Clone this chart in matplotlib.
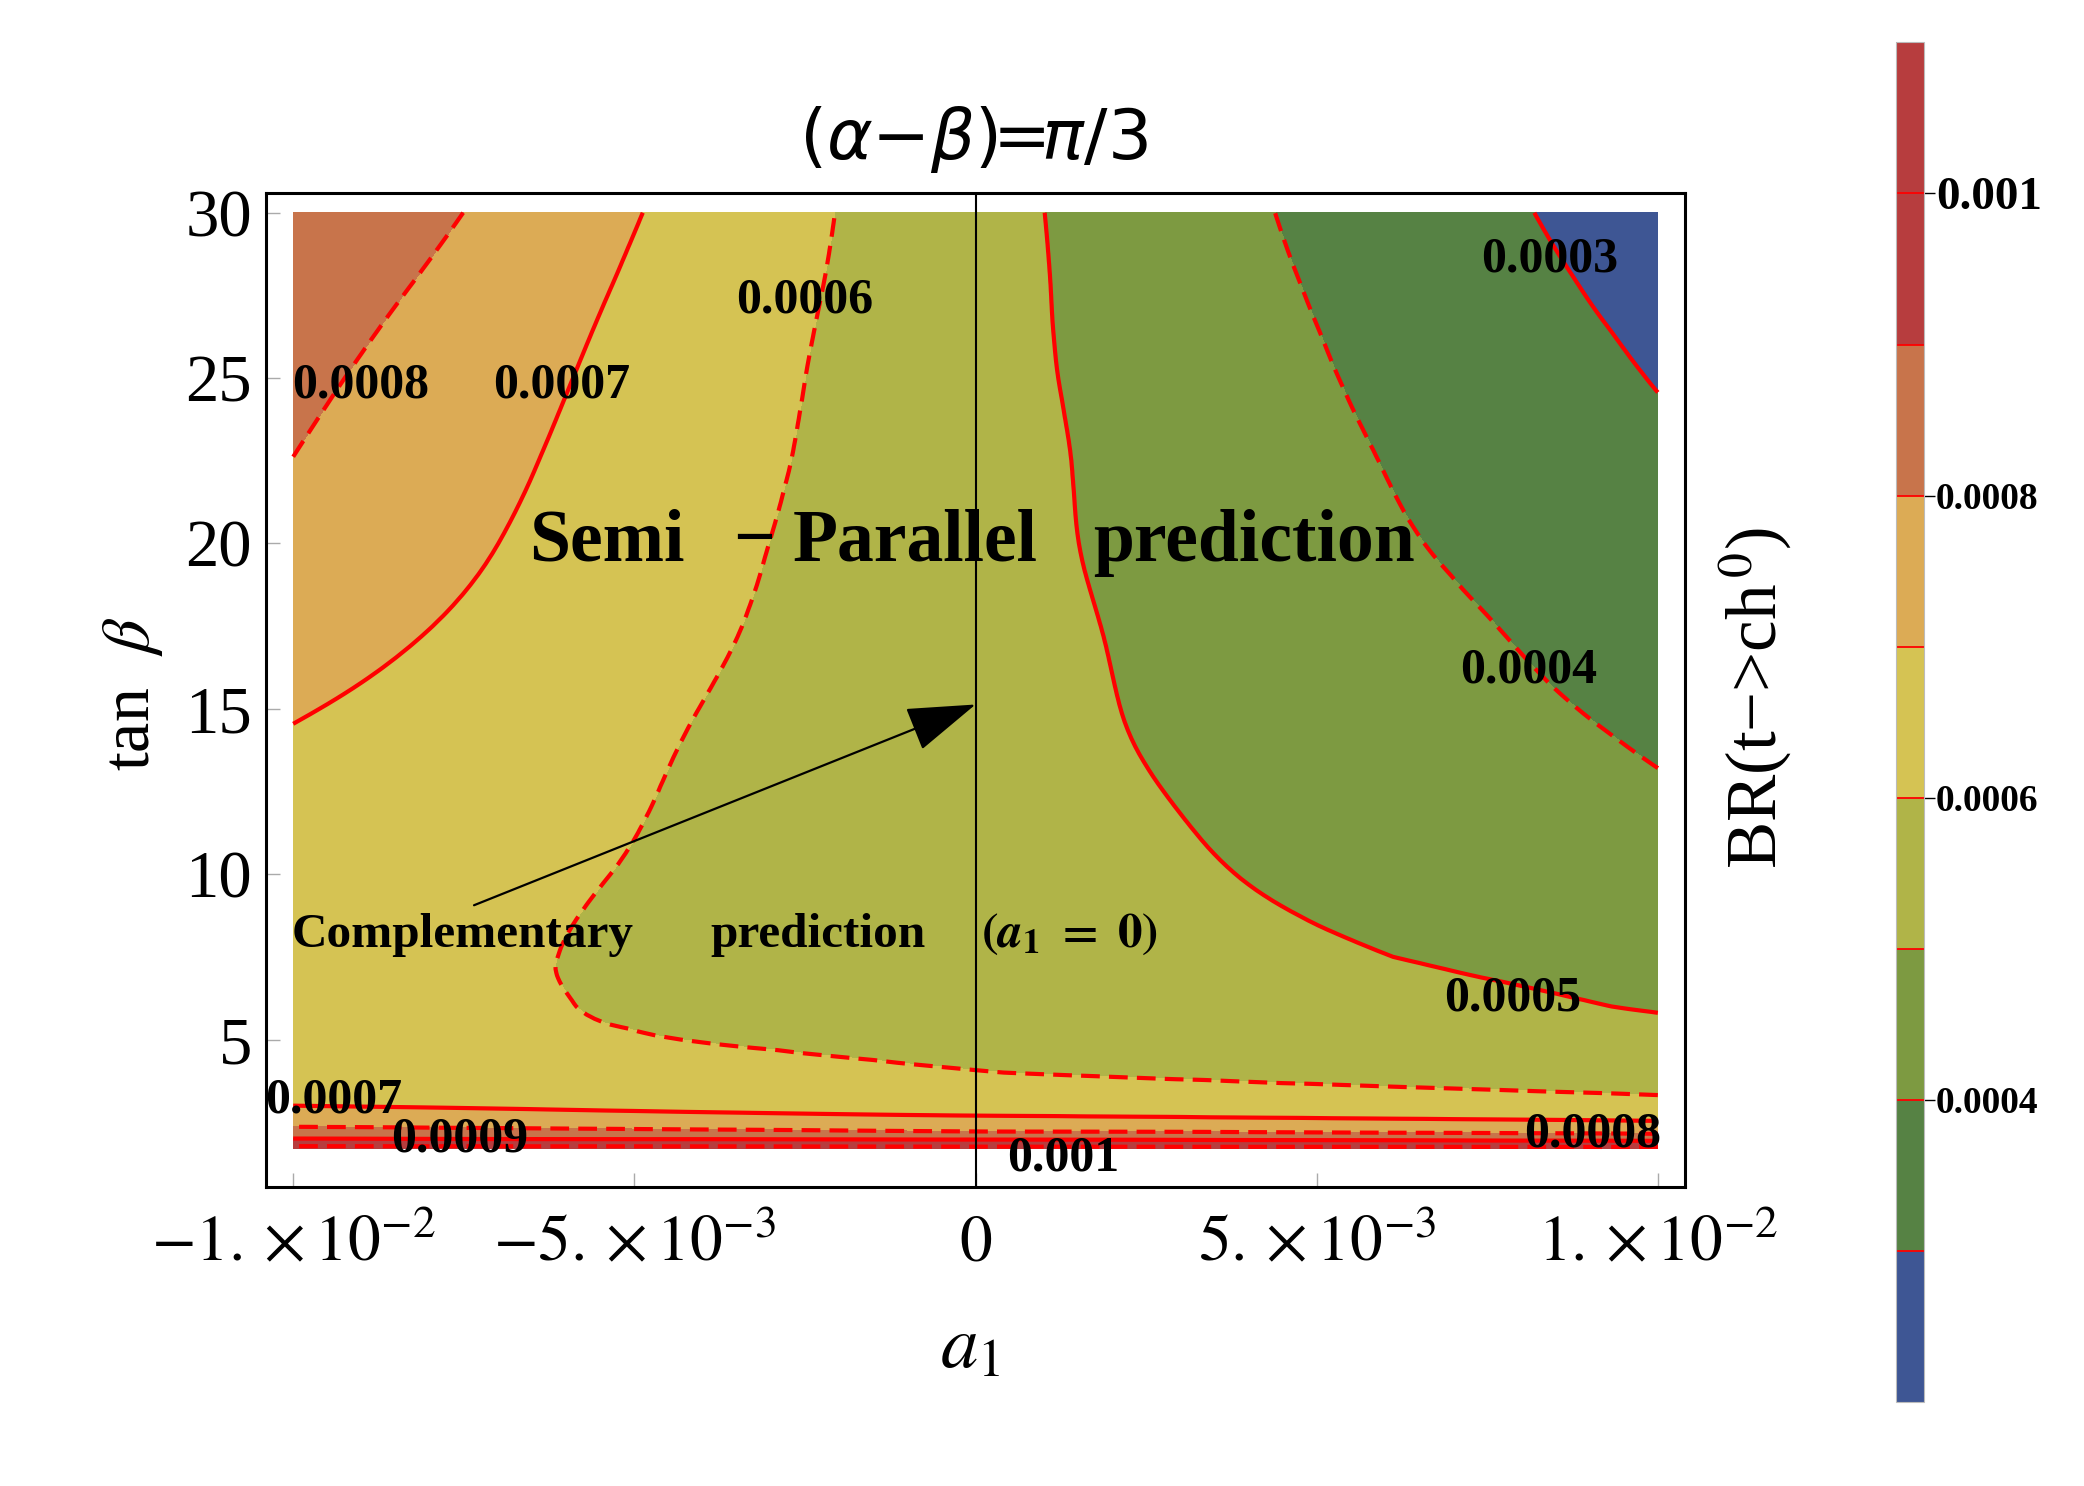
import numpy as np
import matplotlib
matplotlib.use("Agg")
import matplotlib.pyplot as plt
import matplotlib.tri as mtri

plt.rcParams['font.family'] = ['Liberation Serif', 'DejaVu Serif']
plt.rcParams['mathtext.fontset'] = 'stix'

# grid: BR(t->ch0) in units of 1e-4
a1_vals = [-0.010, -0.008, -0.006, -0.004, -0.002, 0.0, 0.002, 0.004, 0.006, 0.008, 0.010]
tanb_vals = [1.7, 1.75, 2.0, 2.25, 2.5, 2.75, 3.0, 3.5, 4.0, 5.0, 6.0, 7.5,
             10.0, 12.5, 15.0, 17.5, 20.0, 22.5, 25.0, 27.5, 30.0]
br_e4 = [
    [11.3, 11.3, 11.3, 11.3, 11.3, 11.3, 11.3, 11.3, 11.3, 11.3, 11.3],
    [10.12, 10.11, 10.10, 10.09, 10.07, 10.05, 10.04, 10.03, 10.03, 10.02, 10.02],
    [9.02, 8.98, 8.95, 8.94, 8.91, 8.88, 8.86, 8.81, 8.78, 8.72, 8.67],
    [8.24, 8.19, 8.13, 8.07, 8.00, 7.92, 7.89, 7.85, 7.78, 7.73, 7.65],
    [7.75, 7.68, 7.61, 7.55, 7.50, 7.44, 7.37, 7.30, 7.22, 7.15, 7.07],
    [7.37, 7.27, 7.17, 7.08, 6.99, 6.90, 6.84, 6.78, 6.72, 6.67, 6.63],
    [7.00, 6.92, 6.84, 6.76, 6.69, 6.62, 6.54, 6.46, 6.38, 6.30, 6.22],
    [6.72, 6.63, 6.55, 6.47, 6.38, 6.30, 6.22, 6.13, 6.05, 5.97, 5.88],
    [6.58, 6.47, 6.36, 6.25, 6.13, 6.02, 5.93, 5.85, 5.77, 5.68, 5.60],
    [6.38, 6.25, 6.11, 5.98, 5.87, 5.76, 5.65, 5.54, 5.44, 5.33, 5.22],
    [6.32, 6.15, 6.01, 5.88, 5.75, 5.62, 5.48, 5.35, 5.22, 5.09, 4.96],
    [6.32, 6.15, 5.99, 5.82, 5.66, 5.50, 5.33, 5.17, 5.01, 4.84, 4.68],
    [6.50, 6.28, 6.07, 5.85, 5.63, 5.42, 5.20, 4.98, 4.77, 4.56, 4.35],
    [6.73, 6.46, 6.19, 5.91, 5.64, 5.37, 5.10, 4.84, 4.59, 4.33, 4.07],
    [7.07, 6.71, 6.36, 5.99, 5.67, 5.35, 5.02, 4.72, 4.42, 4.12, 3.83],
    [7.47, 7.01, 6.56, 6.12, 5.72, 5.34, 4.97, 4.62, 4.28, 3.94, 3.61],
    [7.79, 7.26, 6.74, 6.23, 5.77, 5.33, 4.90, 4.51, 4.11, 3.74, 3.37],
    [7.99, 7.44, 6.89, 6.35, 5.82, 5.34, 4.86, 4.42, 3.98, 3.58, 3.18],
    [8.22, 7.63, 7.03, 6.44, 5.86, 5.32, 4.80, 4.32, 3.84, 3.40, 2.96],
    [8.53, 7.87, 7.20, 6.55, 5.92, 5.32, 4.75, 4.21, 3.71, 3.22, 2.76],
    [8.95, 8.19, 7.42, 6.68, 5.98, 5.32, 4.70, 4.11, 3.57, 3.05, 2.52],
]

levels = [0.0002, 0.0003, 0.0004, 0.0005, 0.0006, 0.0007, 0.0008, 0.0009, 0.0010, 0.0011]
band_colors = ['#3e5694', '#568244', '#7d9a41', '#b0b448', '#d5c353',
               '#dcab55', '#c8744b', '#b73d3e', '#b73d3e']
line_levels = [0.0003, 0.0004, 0.0005, 0.0006, 0.0007, 0.0008, 0.0009, 0.0010]
dash = (0, (4.5, 2.2))
line_styles = ['solid', dash, 'solid', dash, 'solid', dash, 'solid', dash]

cbar_ticks = [0.0004, 0.0006, 0.0008, 0.001]
cbar_ticklabels = ['0.0004', '0.0006', '0.0008', '0.001']
xtick_vals = [-0.01, -0.005, 0.0, 0.005, 0.01]
xtick_labels = [r'$-1.\times10^{-2}$', r'$-5.\times10^{-3}$', r'$0$',
                r'$5.\times10^{-3}$', r'$1.\times10^{-2}$']
ytick_vals = [5, 10, 15, 20, 25, 30]

# contour labels: text, a1, tan(beta)
contour_labels = [
    ('0.0006', -0.00251, 27.35),
    ('0.0008', -0.00901, 24.77),
    ('0.0007', -0.00607, 24.77),
    ('0.0003', 0.00842, 28.59),
    ('0.0004', 0.00810, 16.17),
    ('0.0005', 0.00788, 6.25),
    ('0.0007', -0.00941, 3.15),
    ('0.0009', -0.00756, 1.99),
    ('0.001', 0.00128, 1.40),
    ('0.0008', 0.00905, 2.14),
]

fig = plt.figure(figsize=(20.84, 14.86), dpi=100)
ax = fig.add_axes([0.1276, 0.2012, 0.681, 0.669])

Z = np.array(br_e4) * 1e-4
ny, nx = Z.shape

# smooth the table on a triangulation of the grid in index space,
# then place the refined nodes back on the a1 / tan(beta) axes
J, I = np.meshgrid(np.arange(nx), np.arange(ny))
idx = np.arange(ny * nx).reshape(ny, nx)
tris = []
for i in range(ny - 1):
    for j in range(nx - 1):
        a, b, c, d = idx[i, j], idx[i, j + 1], idx[i + 1, j], idx[i + 1, j + 1]
        tris += [[a, b, d], [a, d, c]]
tri = mtri.Triangulation(J.ravel().astype(float), I.ravel().astype(float), np.array(tris))
tri_f, z_f = mtri.UniformTriRefiner(tri).refine_field(Z.ravel(), subdiv=3)
x_f = np.interp(tri_f.x, np.arange(nx), a1_vals)
y_f = np.interp(tri_f.y, np.arange(ny), tanb_vals)
tri_plot = mtri.Triangulation(x_f, y_f, tri_f.triangles)

cf = ax.tricontourf(tri_plot, z_f, levels=levels, colors=band_colors)
cs = ax.tricontour(tri_plot, z_f, levels=line_levels, colors='red', linewidths=3.0,
                   linestyles=line_styles)

ax.axvline(0, color='black', lw=1.5, zorder=3)

ax.set_xlim(-0.0104, 0.0104)
ax.set_ylim(0.54, 30.6)
ax.set_xticks(xtick_vals, xtick_labels)
ax.set_yticks(ytick_vals, [str(v) for v in ytick_vals])
ax.tick_params(axis='both', direction='in', length=10, width=1, color='#aaaaaa')
ax.tick_params(axis='x', pad=20, labelsize=47)
ax.tick_params(axis='y', pad=10, labelsize=48)
for sp in ax.spines.values():
    sp.set_linewidth(2.2)

for txt, xa, yt in contour_labels:
    ax.text(xa, yt, txt, fontsize=36, fontweight='bold', ha='center', va='center',
            zorder=5, clip_on=False)

# annotations
big = dict(fontsize=53, fontweight='bold', va='baseline', zorder=5)
ax.text(-0.00654, 19.47, 'Semi', ha='left', **big)
ax.text(-0.00325, 19.47, '\u2212', ha='center', **big)
ax.text(-0.00268, 19.47, 'Parallel', ha='left', **big)
ax.text(0.00173, 19.47, 'prediction', ha='left', **big)

small = dict(fontsize=35.5, fontweight='bold', va='baseline', zorder=5)
ax.text(-0.01002, 7.81, 'Complementary', ha='left', **small)
ax.text(-0.00389, 7.81, 'prediction', ha='left', **small)
ax.text(0.00008, 7.81, r'$\mathbf{(}\mathbfit{a}_{\mathbf{1}}\ \mathbf{=\ 0)}$', ha='left', **small)

ax.annotate('', xy=(0.0, 15.13), xytext=(-0.00735, 9.06),
            arrowprops=dict(arrowstyle='-|>,head_length=1.1,head_width=0.36',
                            mutation_scale=40, color='black', lw=1.6,
                            shrinkA=0, shrinkB=0),
            zorder=6)

fig.text(0.467, 0.906, r'$(\alpha{-}\beta)\!\!=\!\!\pi/3$', fontsize=50,
         math_fontfamily='dejavusans', ha='center', va='center')
fig.text(0.4655, 0.092, r'$a_1$', fontsize=54, ha='center', va='center')
fig.text(0.0638, 0.533, r'tan  $\beta$', fontsize=49, rotation=90,
         ha='center', va='center')
fig.text(0.842, 0.530, 'BR(t\u2212>ch$^{\\,0}$)', fontsize=51, rotation=90,
         ha='center', va='center')

# colour bar
cax = fig.add_axes([0.910, 0.0565, 0.013, 0.915])
cb = fig.colorbar(cf, cax=cax, ticks=cbar_ticks)
cb.set_ticklabels(cbar_ticklabels)
for lv in line_levels:
    cax.axhline(lv, color='red', lw=1.3)
cb.outline.set_linewidth(0.8)
cb.outline.set_edgecolor('#bbbbbb')
cax.tick_params(length=8, width=1, direction='out', pad=1)
for lab in cax.get_yticklabels():
    lab.set_fontweight('bold')
    lab.set_fontsize(34 if lab.get_text() == '0.001' else 27)

fig.savefig('out.png', dpi=100)
